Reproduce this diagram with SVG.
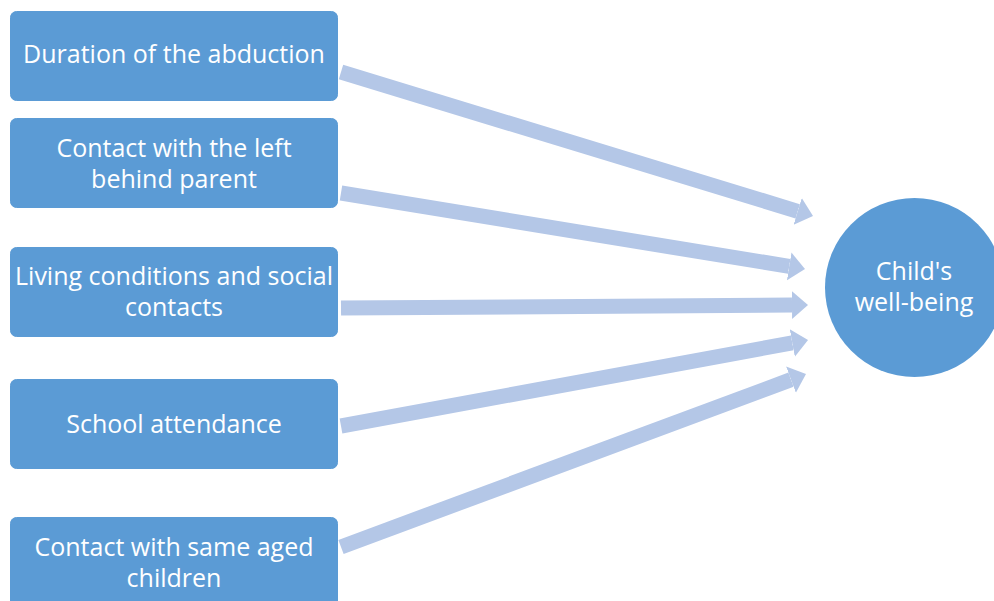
<svg xmlns="http://www.w3.org/2000/svg" width="994" height="601" viewBox="0 0 994 601">
<style>
.box{fill:#5B9BD5;stroke:#5B9BD5;stroke-width:1}
.t{font-family:"Open Sans","Liberation Sans",Arial,sans-serif;font-size:25px;fill:#fff;text-anchor:middle}
.arr{stroke:#B4C7E7;stroke-width:15;fill:none;marker-end:url(#head)}
</style>
<defs>
<marker id="head" markerUnits="userSpaceOnUse" markerWidth="20" markerHeight="32" viewBox="0 -16 20 32" refX="0" refY="0" orient="auto">
<path d="M0,-14 L16,0 L0,14 Z" fill="#B4C7E7"/>
</marker>
</defs>
<rect width="994" height="601" fill="#fff"/>
<g id="connectors">
<line class="arr" x1="341" y1="72" x2="797.7" y2="211.3"/>
<line class="arr" x1="341" y1="193" x2="789.2" y2="266.4"/>
<line class="arr" x1="341" y1="308" x2="792" y2="305.1"/>
<line class="arr" x1="341" y1="426" x2="792.3" y2="342.9"/>
<line class="arr" x1="341" y1="547" x2="791" y2="379.6"/>
</g>
<g id="n1"><rect class="box" x="10.5" y="11.5" width="327" height="89" rx="6"/><text class="t" x="174" y="63">Duration of the abduction</text></g>
<g id="n2"><rect class="box" x="10.5" y="118.5" width="327" height="89" rx="6"/><text class="t" x="174" y="157">Contact with the left</text><text class="t" x="174" y="188">behind parent</text></g>
<g id="n3"><rect class="box" x="10.5" y="247.5" width="327" height="89" rx="6"/><text class="t" x="174" y="285">Living conditions and social</text><text class="t" x="174" y="316">contacts</text></g>
<g id="n4"><rect class="box" x="10.5" y="379.5" width="327" height="89" rx="6"/><text class="t" x="174" y="433">School attendance</text></g>
<g id="n5"><rect class="box" x="10.5" y="517.5" width="327" height="100" rx="6"/><text class="t" x="174" y="556">Contact with same aged</text><text class="t" x="174" y="587">children</text></g>
<g id="n6"><circle cx="914.5" cy="287.5" r="89.5" fill="#5B9BD5"/><text class="t" x="914" y="280">Child's</text><text class="t" x="914" y="311">well-being</text></g>
</svg>
